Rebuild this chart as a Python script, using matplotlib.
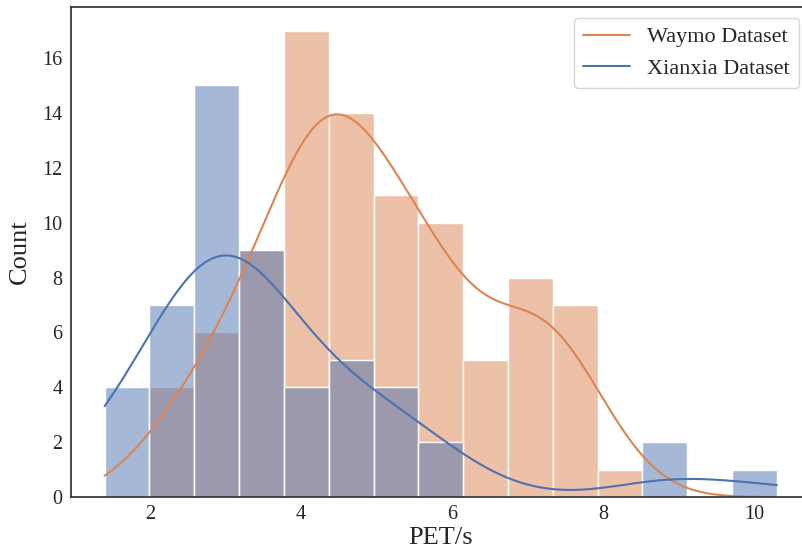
import matplotlib
matplotlib.use("Agg")
import matplotlib.pyplot as plt
from matplotlib.lines import Line2D
import numpy as np
import pandas as pd
import seaborn as sns

# PET samples (seconds) for each dataset
waymo_pet = [
    2.0, 2.1, 2.3, 2.5,
    2.65, 2.8, 2.9, 3.0, 3.1, 3.15,
    3.2, 3.3, 3.35, 3.45, 3.5, 3.55, 3.6, 3.68, 3.75,
    3.82, 3.88, 3.93, 3.98, 4.02, 4.05, 4.08, 4.12, 4.15, 4.18, 4.22, 4.25,
    4.28, 4.3, 4.32, 4.34, 4.36,
    4.4, 4.45, 4.5, 4.54, 4.58, 4.62, 4.66, 4.7, 4.74, 4.78, 4.82, 4.86, 4.9, 4.95,
    5.0, 5.05, 5.1, 5.15, 5.2, 5.25, 5.3, 5.35, 5.4, 5.45, 5.5,
    5.6, 5.65, 5.7, 5.75, 5.8, 5.85, 5.9, 5.95, 6.0, 6.1,
    6.2, 6.35, 6.5, 6.6, 6.7,
    6.85, 6.9, 6.95, 7.0, 7.05, 7.1, 7.2, 7.3,
    7.4, 7.45, 7.5, 7.6, 7.7, 7.8, 7.9,
    8.3,
]
xianxia_pet = [
    1.4, 1.42, 1.5, 1.65,
    2.0, 2.1, 2.2, 2.3, 2.4, 2.5, 2.58,
    2.6, 2.63, 2.66, 2.7, 2.74, 2.78, 2.82, 2.86, 2.9, 2.94, 2.98, 3.02, 3.06,
    3.1, 3.15,
    3.2, 3.25, 3.3, 3.36, 3.42, 3.48, 3.55, 3.62, 3.7,
    3.8, 3.95, 4.1, 4.3,
    4.4, 4.5, 4.65, 4.75, 4.9,
    5.1, 5.25, 5.4, 5.5,
    5.8, 6.05,
    8.8, 9.05,
    10.3,
]
dataset_labels = ["Waymo Dataset", "Xianxia Dataset"]
n_bins = 15

sns.set_theme(style="white")
plt.rcParams["font.family"] = ["Liberation Serif", "DejaVu Serif"]

df = pd.DataFrame({
    "PET": waymo_pet + xianxia_pet,
    "Dataset": ["Waymo"] * len(waymo_pet) + ["Xianxia"] * len(xianxia_pet),
})

palette = {"Xianxia": "#4C72B0", "Waymo": "#DD8452"}

fig = plt.figure(figsize=(8.03, 5.56), dpi=100)
ax = fig.add_axes([0.0884, 0.106, 0.921, 0.881])

sns.histplot(data=df, x="PET", hue="Dataset", hue_order=["Xianxia", "Waymo"],
             bins=n_bins, kde=True, palette=palette, edgecolor="white",
             linewidth=1.0, ax=ax, legend=False)

for line in ax.lines:
    line.set_linewidth(1.5)

ax.set_xlabel("PET/s", fontsize=19, labelpad=2)
ax.set_ylabel("Count", fontsize=19, labelpad=8)
ax.tick_params(axis="both", labelsize=14.5, colors=".15", length=0, pad=6)
ax.set_yticks(np.arange(0, 17, 2))
ax.set_xticks([2, 4, 6, 8, 10])
for s in ax.spines.values():
    s.set_color(".2")
    s.set_linewidth(1.25)

handles = [Line2D([0], [0], color=palette["Waymo"], lw=1.5),
           Line2D([0], [0], color=palette["Xianxia"], lw=1.5)]
fig.legend(handles, dataset_labels, loc="upper right",
           bbox_to_anchor=(799 / 803, 1 - 18 / 556), borderaxespad=0,
           fontsize=16, handlelength=2.1, frameon=True, fancybox=True)

fig.savefig("out.png", dpi=100)
